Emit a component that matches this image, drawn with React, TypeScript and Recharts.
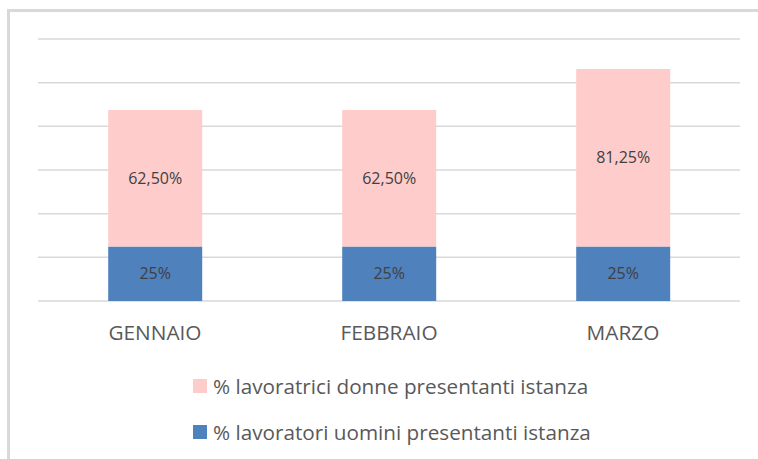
import React from 'react';
import { BarChart, Bar, XAxis, YAxis, CartesianGrid, LabelList } from 'recharts';

// Months on the category axis
const months = ['GENNAIO', 'FEBBRAIO', 'MARZO'];
// % of male workers filing (bottom stack)
const uomini = [25, 25, 25];
// % of female workers filing (top stack)
const donne = [62.5, 62.5, 81.25];
// Hidden value axis ticks (drive the gridlines)
const yTicks = [0, 20, 40, 60, 80, 100, 120];

const seriesUomini = { key: 'uomini', name: '% lavoratori uomini presentanti istanza', color: '#4f81bd' };
const seriesDonne = { key: 'donne', name: '% lavoratrici donne presentanti istanza', color: '#ffcccc' };

const data = months.map((m, i) => ({ month: m, uomini: uomini[i], donne: donne[i] }));

const FONT = '"Open Sans", "Liberation Sans", sans-serif';

const fmtUomini = (v: any) => `${v}%`;
const fmtDonne = (v: any) => `${Number(v).toFixed(2).replace('.', ',')}%`;

const App: React.FC = () => {
  return (
    <div style={{ position: 'absolute', left: 0, top: 0, width: 758, height: 459, background: '#fff', overflow: 'hidden' }}>
      <div
        style={{
          position: 'absolute', left: 7, top: 9, width: 800, height: 500,
          borderLeft: '3px solid #d9d9d9', borderTop: '3px solid #d9d9d9',
        }}
      />
      <div style={{ position: 'absolute', left: 0, top: 0 }}>
        <BarChart
          width={758}
          height={459}
          data={data}
          margin={{ top: 39, right: 18, bottom: 128, left: 38 }}
          barCategoryGap="30%"
        >
          <CartesianGrid vertical={false} stroke="#d9d9d9" strokeWidth={1.5} />
          <YAxis hide domain={[0, 120]} ticks={yTicks} />
          <XAxis
            dataKey="month"
            axisLine={false}
            tickLine={false}
            tickMargin={18}
            tick={{ fill: '#595959', fontSize: 20.8, fontFamily: FONT }}
          />
          <Bar dataKey={seriesUomini.key} stackId="a" fill={seriesUomini.color} name={seriesUomini.name} isAnimationActive={false}>
            <LabelList dataKey={seriesUomini.key} position="center" formatter={fmtUomini}
              style={{ fill: '#404040', fontSize: 16, fontFamily: FONT }} />
          </Bar>
          <Bar dataKey={seriesDonne.key} stackId="a" fill={seriesDonne.color} name={seriesDonne.name} isAnimationActive={false}>
            <LabelList dataKey={seriesDonne.key} position="center" formatter={fmtDonne}
              style={{ fill: '#404040', fontSize: 16, fontFamily: FONT }} />
          </Bar>
        </BarChart>
      </div>
      <div style={{ position: 'absolute', left: 193, top: 363, fontFamily: FONT }}>
        {[seriesDonne, seriesUomini].map((s) => (
          <div key={s.key} style={{ display: 'flex', alignItems: 'center', height: 46 }}>
            <div style={{ width: 14, height: 14, backgroundColor: s.color, marginRight: 6 }} />
            <span style={{ fontSize: 20.7, color: '#595959' }}>{s.name}</span>
          </div>
        ))}
      </div>
    </div>
  );
};

export default App;
